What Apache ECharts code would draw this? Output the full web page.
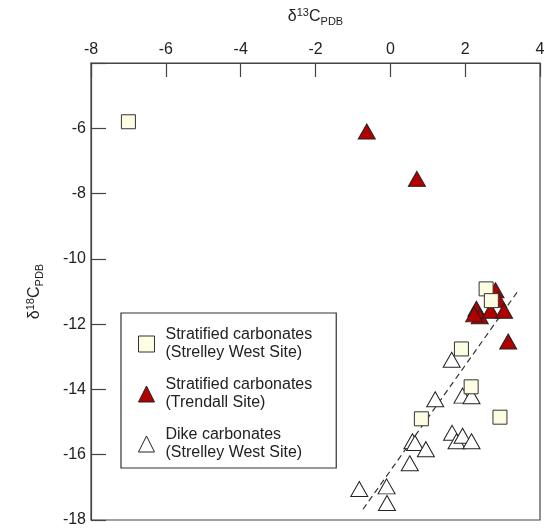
<!DOCTYPE html>
<html>
<head>
<meta charset="utf-8">
<script src="https://cdn.jsdelivr.net/npm/echarts@6/dist/echarts.min.js"></script>
<style>
  html, body { margin: 0; padding: 0; background: #fff; }
  #chart { width: 550px; height: 528px; }
</style>
</head>
<body>
<div id="chart"></div>
<script>
// Series names (legend text)
const seriesNames = [
  'Stratified carbonates\n(Strelley West Site)',
  'Stratified carbonates\n(Trendall Site)',
  'Dike carbonates\n(Strelley West Site)'
];

// [δ13C, δ18O] pairs
const strelleyStratified = [
  [-7.0, -5.8], [2.56, -10.92], [2.7, -11.28], [1.9, -12.76],
  [2.16, -13.92], [0.83, -14.9], [2.93, -14.85]
];
const trendallStratified = [
  [-0.63, -6.1], [0.71, -7.55], [2.81, -10.96], [2.88, -11.25],
  [2.3, -11.53], [2.39, -11.76], [2.68, -11.59], [3.04, -11.59],
  [2.24, -11.7], [3.15, -12.53]
];
const strelleyDikes = [
  [1.64, -13.09], [1.2, -14.3], [1.93, -14.19], [2.17, -14.21],
  [1.65, -15.33], [1.77, -15.59], [1.93, -15.42], [2.17, -15.59],
  [0.59, -15.59], [0.66, -15.64], [0.95, -15.83], [0.52, -16.26],
  [-0.83, -17.05], [-0.1, -16.97], [-0.09, -17.48]
];
// Dashed trend line through the dike carbonates
const trendLine = [[-0.73, -17.67], [3.39, -11.02]];

// Axis settings
const xTicks = { min: -8, max: 4, step: 2 };
const yTicks = { min: -18, max: -4, step: 2 };

const textColor = '#222';
const font = 'Liberation Sans, Arial, Helvetica, sans-serif';

const nameRich = {
  n: { fontSize: 16, fontFamily: font, color: textColor, lineHeight: 24 },
  sup: { fontSize: 11, fontFamily: font, color: textColor, lineHeight: 24, padding: [0, 0, 9, 0] },
  sub: { fontSize: 11, fontFamily: font, color: textColor, lineHeight: 24, padding: [10, 0, 0, 0] }
};

const chart = echarts.init(document.getElementById('chart'), null, { renderer: 'canvas' });
chart.setOption({
  animation: false,
  backgroundColor: '#fff',
  grid: {
    left: 91, top: 63, right: 10, bottom: 8,
    show: true, borderColor: '#444', borderWidth: 1.2, backgroundColor: 'transparent'
  },
  xAxis: {
    type: 'value', position: 'top',
    min: xTicks.min, max: xTicks.max, interval: xTicks.step,
    name: '{n|δ}{sup|13}{n|C}{sub|PDB}',
    nameLocation: 'middle', nameGap: 34,
    nameTextStyle: { fontSize: 16, fontFamily: font, color: textColor, rich: nameRich },
    axisLine: { show: true, onZero: false, lineStyle: { color: '#444', width: 1.2 } },
    axisTick: { show: true, inside: true, length: 14, lineStyle: { color: '#444', width: 1.2 } },
    axisLabel: { color: textColor, fontSize: 16, fontFamily: font, margin: 5, showMaxLabel: true, showMinLabel: true },
    splitLine: { show: false }
  },
  yAxis: {
    type: 'value',
    min: yTicks.min, max: yTicks.max, interval: yTicks.step,
    name: '{n|δ}{sup|18}{n|C}{sub|PDB}',
    nameLocation: 'middle', nameGap: 44, nameRotate: 90,
    nameTextStyle: { fontSize: 16, fontFamily: font, color: textColor, rich: nameRich },
    axisLine: { show: true, onZero: false, lineStyle: { color: '#444', width: 1.2 } },
    axisTick: { show: true, inside: true, length: 15, lineStyle: { color: '#444', width: 1.2 } },
    axisLabel: {
      color: textColor, fontSize: 16, fontFamily: font, margin: 5,
      formatter: v => (v === yTicks.max ? '' : String(v))
    },
    splitLine: { show: false }
  },
  legend: {
    data: seriesNames,
    orient: 'vertical',
    left: 121, top: 313,
    padding: [13, 24, 6, 17],
    itemGap: 14,
    itemWidth: 16, itemHeight: 16,
    itemStyle: { borderWidth: 1 },
    borderColor: '#333', borderWidth: 1.2,
    backgroundColor: '#fff',
    textStyle: { color: textColor, fontSize: 16, fontFamily: font, lineHeight: 18, padding: [0, 0, 0, 6] }
  },
  series: [
    {
      type: 'line', data: trendLine, symbol: 'none', silent: true, z: 1,
      lineStyle: { color: '#333', width: 1.2, type: [6, 4] }
    },
    {
      name: seriesNames[2], type: 'scatter', data: strelleyDikes,
      symbol: 'triangle', symbolSize: [17, 15], z: 2,
      itemStyle: { color: '#fff', borderColor: '#222', borderWidth: 1, opacity: 1 }
    },
    {
      name: seriesNames[1], type: 'scatter', data: trendallStratified,
      symbol: 'triangle', symbolSize: [17, 15], z: 3,
      itemStyle: { color: '#b00000', borderColor: '#222', borderWidth: 1, opacity: 1 }
    },
    {
      name: seriesNames[0], type: 'scatter', data: strelleyStratified,
      symbol: 'rect', symbolSize: 14, z: 4,
      itemStyle: { color: '#fdfde3', borderColor: '#333', borderWidth: 1, opacity: 1 }
    }
  ]
});
</script>
</body>
</html>
